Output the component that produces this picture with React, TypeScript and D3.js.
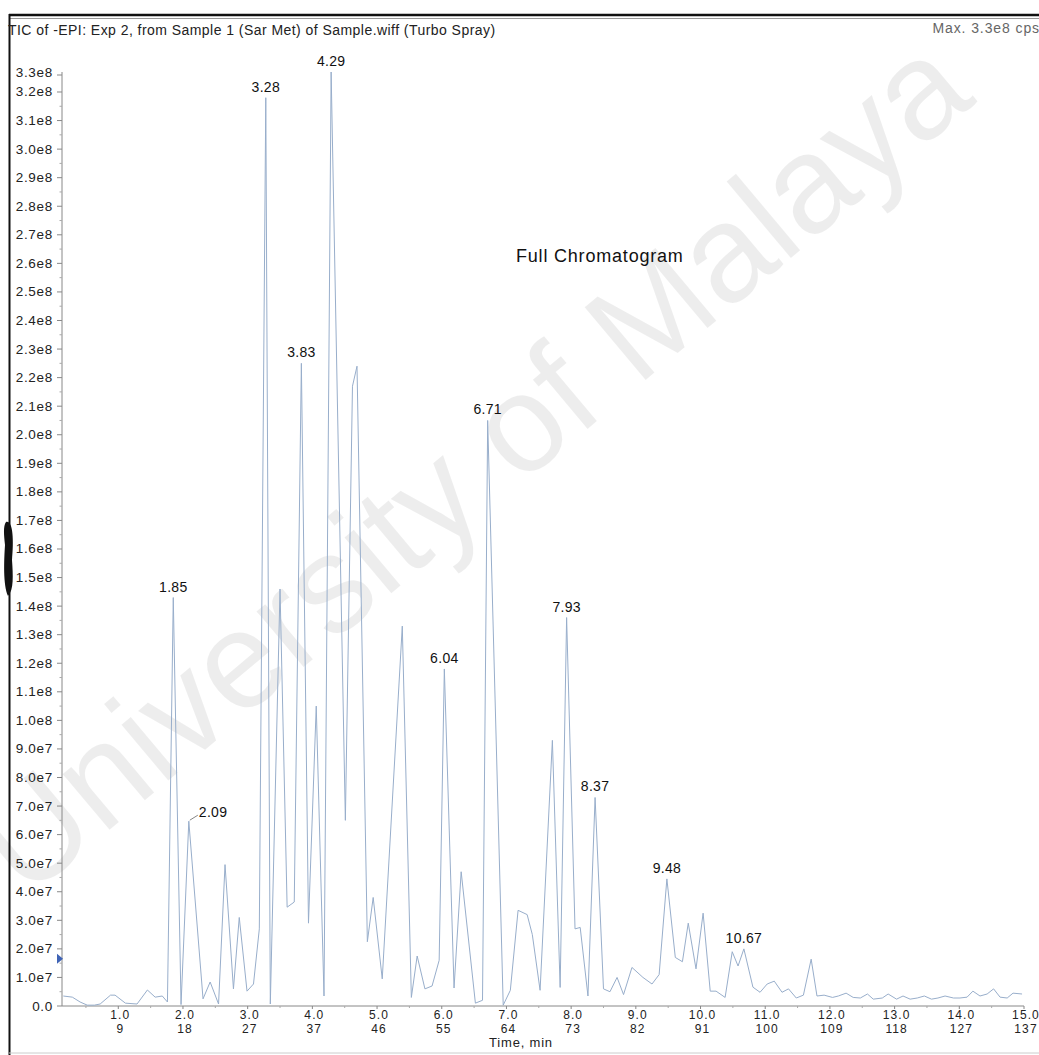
import React from 'react';
import * as d3 from 'd3';

// TIC trace: retention time (min) and intensity (cps)
const times = [
  0.15, 0.29, 0.41, 0.52, 0.63, 0.72, 0.88, 0.95, 1.11, 1.29, 1.45, 1.57, 1.68, 1.76,
  1.85, 1.97, 2.09, 2.31, 2.42, 2.55, 2.65, 2.78, 2.87, 2.99, 3.09, 3.18, 3.28, 3.35,
  3.50, 3.61, 3.72, 3.83, 3.94, 4.06, 4.18, 4.29, 4.51, 4.62, 4.69, 4.85, 4.94, 5.08,
  5.39, 5.53, 5.62, 5.74, 5.85, 5.96, 6.04, 6.19, 6.30, 6.52, 6.63, 6.71, 6.95, 7.06,
  7.18, 7.32, 7.40, 7.52, 7.71, 7.83, 7.93, 8.06, 8.14, 8.26, 8.37, 8.50, 8.60, 8.71,
  8.81, 8.94, 9.11, 9.25, 9.36, 9.48, 9.61, 9.72, 9.81, 9.93, 10.04, 10.15, 10.24,
  10.38, 10.49, 10.58, 10.67, 10.81, 10.92, 11.03, 11.14, 11.26, 11.36, 11.48, 11.59,
  11.71, 11.80, 11.91, 12.04, 12.13, 12.25, 12.36, 12.47, 12.58, 12.67, 12.81, 12.90,
  13.03, 13.13, 13.24, 13.35, 13.46, 13.57, 13.67, 13.78, 13.91, 14.01, 14.12, 14.21,
  14.32, 14.43, 14.53, 14.63, 14.74, 14.83, 14.97,
];

const intensities = [
  3.5e6, 3.1e6, 1.4e6, 0.3e6, 0.3e6, 0.7e6, 3.8e6, 3.8e6, 1.0e6, 0.7e6, 5.6e6, 3.1e6, 3.5e6, 1.4e6,
  1.43e8, 0.5e6, 6.47e7, 2.5e6, 8.4e6, 0.7e6, 4.95e7, 6.0e6, 3.1e7, 5.2e6, 7.7e6, 2.7e7, 3.18e8, 0.7e6,
  1.46e8, 3.46e7, 3.64e7, 2.25e8, 2.9e7, 1.05e8, 3.5e6, 3.27e8, 6.5e7, 2.17e8, 2.24e8, 2.25e7, 3.8e7, 9.5e6,
  1.33e8, 3.0e6, 1.75e7, 6.0e6, 7.0e6, 1.6e7, 1.18e8, 6.3e6, 4.7e7, 1.0e6, 2.0e6, 2.05e8, 0.3e6, 5.5e6,
  3.35e7, 3.2e7, 2.5e7, 5.5e6, 9.3e7, 6.5e6, 1.36e8, 2.7e7, 2.75e7, 3.5e6, 7.3e7, 6.0e6, 5.0e6, 1.0e7,
  4.0e6, 1.35e7, 1.0e7, 7.7e6, 1.1e7, 4.45e7, 1.7e7, 1.55e7, 2.9e7, 1.3e7, 3.25e7, 5.2e6, 5.2e6,
  3.0e6, 1.9e7, 1.4e7, 2.0e7, 6.6e6, 4.8e6, 7.7e6, 8.7e6, 4.8e6, 6.0e6, 2.8e6, 3.8e6,
  1.64e7, 3.5e6, 3.8e6, 3.0e6, 3.5e6, 4.5e6, 3.0e6, 2.8e6, 4.2e6, 2.4e6, 2.8e6, 4.2e6,
  2.4e6, 3.5e6, 2.4e6, 2.8e6, 3.5e6, 2.4e6, 2.8e6, 3.5e6, 2.8e6, 2.8e6, 3.1e6, 5.2e6,
  3.5e6, 4.2e6, 6.0e6, 3.1e6, 2.8e6, 4.5e6, 4.2e6,
];

const peakLabels = ['1.85', '2.09', '3.28', '3.83', '4.29', '6.04', '6.71', '7.93', '8.37', '9.48', '10.67'];
const timeTicks = ['1.0', '2.0', '3.0', '4.0', '5.0', '6.0', '7.0', '8.0', '9.0', '10.0', '11.0', '12.0', '13.0', '14.0', '15.0'];
const scanTicks = ['9', '18', '27', '37', '46', '55', '64', '73', '82', '91', '100', '109', '118', '127', '137'];
const maxIntensity = 3.27e8;
const thresholdLevel = 1.65e7;

const FONT = '"Liberation Sans", Arial, sans-serif';

const fmtY = (v: number) => {
  if (v === 0) return '0.0';
  const e = Math.floor(Math.log10(v) + 1e-9);
  return `${(v / Math.pow(10, e)).toFixed(1)}e${e}`;
};

export default function App() {
  const W = 1039;
  const H = 1055;

  const x = d3.scaleLinear().domain([0.13, 15.0]).range([62, 1024]);
  const y = d3.scaleLinear().domain([0, maxIntensity]).range([1006, 72]);

  const line = d3
    .line<number>()
    .x((_, i) => x(times[i]))
    .y((d) => y(d));

  const yMajor = d3.range(0, 3.2e8 + 1, 1e7);
  const yMinor = d3.range(0, 3.25e8, 5e6).filter((v) => v % 1e7 !== 0);
  const xMinor = d3.range(0.5, 15, 1);

  return (
    <svg
      width={W}
      height={H}
      style={{ position: 'absolute', left: 0, top: 0, background: '#fff' }}
      fontFamily={FONT}
    >
      <rect width={W} height={H} fill="#fff" />

      {/* watermark */}
      <text
        x={26}
        y={900}
        fontSize={138}
        fill="#000"
        fillOpacity={0.07}
        transform="rotate(-40 26 900)"
      >
        University of Malaya
      </text>

      {/* frame */}
      <line x1={9} x2={W} y1={15} y2={15} stroke="#111" strokeWidth={2.5} />
      <line x1={9} x2={W} y1={18.5} y2={18.5} stroke="#999" strokeWidth={1} />
      <line x1={9.5} x2={9.5} y1={14} y2={H} stroke="#111" strokeWidth={2} />
      <line x1={9} x2={W} y1={1053} y2={1053} stroke="#ccc" strokeWidth={1} />
      <path d="M6,522 C13,520 14,540 12,560 C13,575 14,590 8,596 C3,585 4,560 5,545 C4,535 3,526 6,522 Z" fill="#111" />

      {/* header */}
      <text x={8} y={35} fontSize={14} fill="#222" letterSpacing={0.45}>
        TIC of -EPI: Exp 2, from Sample 1 (Sar Met) of Sample.wiff (Turbo Spray)
      </text>
      <text x={1040} y={33} fontSize={14} fill="#666" textAnchor="end" letterSpacing={0.9}>
        Max. 3.3e8 cps
      </text>

      {/* y axis */}
      <line x1={62} x2={62} y1={y(0)} y2={y(maxIntensity)} stroke="#888" />
      {yMinor.map((v) => (
        <line key={'ym' + v} x1={59.5} x2={62} y1={y(v)} y2={y(v)} stroke="#aaa" />
      ))}
      {yMajor.map((v) => (
        <g key={'y' + v}>
          <line x1={57} x2={62} y1={y(v)} y2={y(v)} stroke="#888" />
          <text x={53} y={y(v) + 4.5} fontSize={13.5} textAnchor="end" fill="#222" letterSpacing={0.7}>
            {fmtY(v)}
          </text>
        </g>
      ))}
      <line x1={57} x2={62} y1={y(maxIntensity) + 3} y2={y(maxIntensity) + 3} stroke="#888" />
      <text x={53} y={y(maxIntensity) + 5} fontSize={13.5} textAnchor="end" fill="#222" letterSpacing={0.7}>
        {fmtY(maxIntensity)}
      </text>
      <path
        d={`M57,${y(thresholdLevel) - 5} L63,${y(thresholdLevel)} L57,${y(thresholdLevel) + 5} Z`}
        fill="#3f63b5"
      />

      {/* x axis */}
      <line x1={62} x2={1024} y1={y(0)} y2={y(0)} stroke="#888" />
      {xMinor.map((t) => (
        <line key={'xm' + t} x1={x(t)} x2={x(t)} y1={y(0)} y2={y(0) + 2} stroke="#aaa" />
      ))}
      {timeTicks.map((lab, i) => (
        <g key={'x' + lab}>
          <line x1={x(+lab)} x2={x(+lab)} y1={y(0)} y2={y(0) + 3} stroke="#888" />
          <text x={x(+lab) + 2} y={1019} fontSize={12} textAnchor="middle" fill="#222" letterSpacing={1.1}>
            {lab}
          </text>
          <text x={x(+lab) + 2} y={1032.5} fontSize={12} textAnchor="middle" fill="#222" letterSpacing={1.1}>
            {scanTicks[i]}
          </text>
        </g>
      ))}
      <text x={521} y={1047} fontSize={13} textAnchor="middle" fill="#222" letterSpacing={0.8}>
        Time, min
      </text>

      {/* trace */}
      <path d={line(intensities) || ''} fill="none" stroke="#98aecb" strokeWidth={1} strokeLinejoin="round" />

      {/* peak labels */}
      {peakLabels.map((lab) => {
        const i = times.indexOf(+lab);
        const px = x(times[i]);
        const py = y(intensities[i]);
        if (lab === '2.09') {
          return (
            <g key={lab}>
              <line x1={px + 1} y1={py - 1} x2={px + 9} y2={py - 6} stroke="#666" strokeWidth={0.8} />
              <text x={px + 10} y={py - 4} fontSize={14} fill="#111" letterSpacing={0.3}>
                {lab}
              </text>
            </g>
          );
        }
        return (
          <text key={lab} x={px} y={py - 6} fontSize={14} textAnchor="middle" fill="#111" letterSpacing={0.3}>
            {lab}
          </text>
        );
      })}

      <text x={516} y={262} fontSize={18} fill="#111" letterSpacing={0.8}>
        Full Chromatogram
      </text>
    </svg>
  );
}
